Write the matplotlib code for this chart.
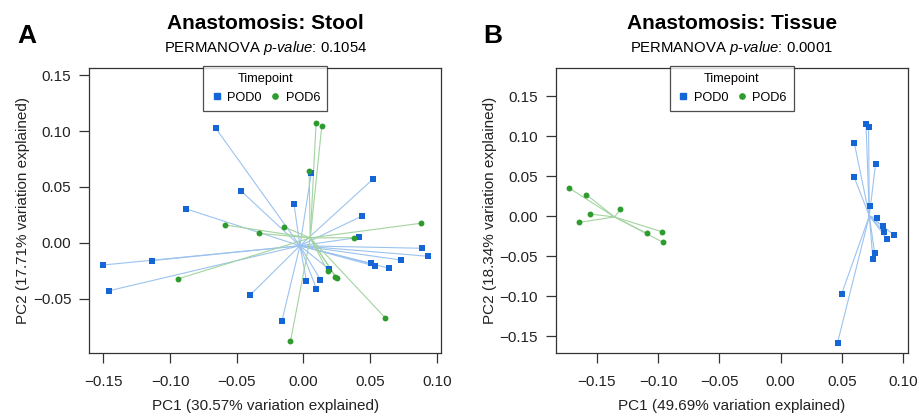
import matplotlib
matplotlib.use("Agg")
import matplotlib.pyplot as plt
from matplotlib.lines import Line2D
import numpy as np

plt.rcParams['font.family'] = ['Liberation Sans', 'DejaVu Sans']
plt.rcParams['mathtext.fontset'] = 'custom'
plt.rcParams['mathtext.rm'] = 'Liberation Sans'
plt.rcParams['mathtext.it'] = 'Liberation Sans:italic'

groups = ["POD0", "POD6"]
colors = {"POD0": "#1466d6", "POD6": "#2e9b2e"}
line_colors = {"POD0": "#9cc3ef", "POD6": "#a3d3a0"}
markers = {"POD0": "s", "POD6": "o"}

# Panel A: Stool
stool_pod0_pc1 = [-0.0657, 0.0060, 0.0520, -0.0467, -0.0070, -0.0877, 0.0440, 0.0418,
                  0.0893, 0.0938, -0.1502, -0.1137, 0.0730, 0.0508, 0.0535, 0.0645,
                  0.0195, 0.0128, 0.0023, 0.0098, -0.1455, -0.0402, -0.0162]
stool_pod0_pc2 = [0.1025, 0.0628, 0.0568, 0.0463, 0.0344, 0.0302, 0.0239, 0.0048,
                  -0.0050, -0.0122, -0.0200, -0.0161, -0.0155, -0.0185, -0.0209, -0.0230,
                  -0.0239, -0.0331, -0.0340, -0.0415, -0.0430, -0.0472, -0.0705]
stool_pod6_pc1 = [0.0095, 0.0138, 0.0043, 0.0880, -0.0587, -0.0145, -0.0332, 0.0378,
                  0.0183, 0.0240, 0.0250, -0.0942, 0.0615, -0.0097]
stool_pod6_pc2 = [0.1070, 0.1046, 0.0645, 0.0174, 0.0159, 0.0141, 0.0084, 0.0045,
                  -0.0257, -0.0307, -0.0316, -0.0325, -0.0675, -0.0884]

# Panel B: Tissue
tissue_pod0_pc1 = [0.0696, 0.0717, 0.0600, 0.0774, 0.0598, 0.0725, 0.0788, 0.0831,
                   0.0842, 0.0926, 0.0869, 0.0766, 0.0752, 0.0497, 0.0464]
tissue_pod0_pc2 = [0.1154, 0.1108, 0.0917, 0.0650, 0.0492, 0.0129, -0.0029, -0.0125,
                   -0.0196, -0.0238, -0.0288, -0.0458, -0.0533, -0.0975, -0.1583]
tissue_pod6_pc1 = [-0.1726, -0.1584, -0.1557, -0.1642, -0.1307, -0.1090, -0.0970, -0.0959]
tissue_pod6_pc2 = [0.0350, 0.0267, 0.0025, -0.0079, 0.0083, -0.0217, -0.0196, -0.0329]

titles = ["Anastomosis: Stool", "Anastomosis: Tissue"]
pvals = ["0.1054", "0.0001"]
xlabels = ["PC1 (30.57% variation explained)", "PC1 (49.69% variation explained)"]
ylabels = ["PC2 (17.71% variation explained)", "PC2 (18.34% variation explained)"]
letters = ["A", "B"]
xticks = [-0.15, -0.10, -0.05, 0.00, 0.05, 0.10]
yticks_a = [-0.05, 0.00, 0.05, 0.10, 0.15]
yticks_b = [-0.15, -0.10, -0.05, 0.00, 0.05, 0.10, 0.15]

panels = [
    {"POD0": (stool_pod0_pc1, stool_pod0_pc2), "POD6": (stool_pod6_pc1, stool_pod6_pc2)},
    {"POD0": (tissue_pod0_pc1, tissue_pod0_pc2), "POD6": (tissue_pod6_pc1, tissue_pod6_pc2)},
]
xlims = [(-0.1605, 0.1032), (-0.1832, 0.1036)]
ylims = [(-0.0991, 0.1568), (-0.1716, 0.1854)]
yticks_list = [yticks_a, yticks_b]

fig = plt.figure(figsize=(9.19, 4.16), dpi=100)
axes_rects = [[0.0972, 0.1507, 0.3827, 0.6866], [0.6050, 0.1507, 0.3827, 0.6866]]

for i in range(2):
    ax = fig.add_axes(axes_rects[i])
    data = panels[i]
    for g in groups:
        x = np.array(data[g][0]); y = np.array(data[g][1])
        cx, cy = x.mean(), y.mean()
        for xi, yi in zip(x, y):
            ax.plot([cx, xi], [cy, yi], color=line_colors[g], lw=0.8, zorder=1)
    for g in groups:
        x = np.array(data[g][0]); y = np.array(data[g][1])
        ax.scatter(x, y, marker=markers[g], s=16 if g == "POD0" else 18,
                   color=colors[g], linewidths=0, zorder=3)
    ax.set_xlim(*xlims[i]); ax.set_ylim(*ylims[i])
    ax.set_xticks(xticks)
    ax.set_xticklabels([f"{t:.2f}".replace("-", "\u2212") for t in xticks])
    ax.set_yticks(yticks_list[i])
    ax.set_yticklabels([f"{t:.2f}".replace("-", "\u2212") for t in yticks_list[i]])
    ax.tick_params(axis='both', length=7, width=0.9, color="#333333", labelsize=11,
                   labelcolor="#222222")
    ax.tick_params(axis='x', pad=8.5)
    ax.tick_params(axis='y', pad=6)
    for s in ax.spines.values():
        s.set_color("#333333"); s.set_linewidth(0.9)
    ax.set_xlabel(xlabels[i], fontsize=11, color="#222222", labelpad=7)
    ax.set_ylabel(ylabels[i], fontsize=11, color="#222222", labelpad=2)

    handles = [Line2D([], [], marker=markers[g], linestyle="none", color=colors[g],
                      markersize=3.8) for g in groups]
    leg = ax.legend(handles, groups, title="Timepoint", loc="upper center",
                    ncol=2, fontsize=9.2, title_fontsize=9.2, frameon=True, fancybox=False,
                    borderaxespad=0, handletextpad=0.3, columnspacing=0.6,
                    handlelength=1.0, borderpad=0.55, bbox_to_anchor=(0.5, 1.005))
    leg.get_frame().set_edgecolor("#222222"); leg.get_frame().set_linewidth(0.9)

    x0, y0, w, h = axes_rects[i]
    cxf = x0 + w / 2
    fig.text(cxf, 1 - 29 / 416, titles[i], ha="center", va="baseline",
             fontsize=15, fontweight="bold")
    fig.text(cxf, 1 - 52 / 416, "PERMANOVA $\\it{p}$-$\\it{value}$: " + pvals[i],
             ha="center", va="baseline", fontsize=10.7)

fig.text(17 / 919, 1 - 43 / 416, "A", fontsize=19, fontweight="bold", ha="left", va="baseline")
fig.text(483 / 919, 1 - 43 / 416, "B", fontsize=19, fontweight="bold", ha="left", va="baseline")

fig.savefig("out.png", dpi=100)
